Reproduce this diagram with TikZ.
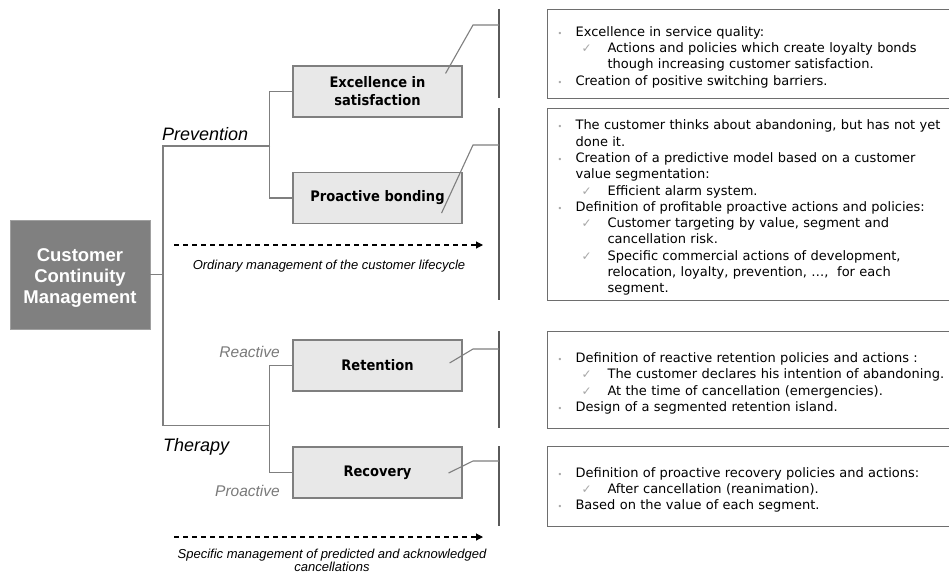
\documentclass[tikz,border=0pt]{standalone}
\usepackage{fontspec}
\setmainfont{DejaVu Sans}
\newfontfamily\arialf{Liberation Sans}
\newfontfamily\symf{DejaVu Sans}
\newfontfamily\titlef{DejaVu Sans}[FakeStretch=0.9]
\usetikzlibrary{arrows.meta}
\definecolor{lineg}{HTML}{7F7F7F}
\definecolor{brackg}{HTML}{5A5A5A}
\definecolor{tboxg}{HTML}{6E6E6E}
\definecolor{boxfill}{HTML}{E8E8E8}
\definecolor{mainfill}{HTML}{808080}
\definecolor{mainedge}{HTML}{A0A0A0}
\definecolor{bulg}{HTML}{A8A8A8}
\definecolor{labg}{HTML}{7A7A7A}
\newcommand\bu{\par\noindent\hangindent=19pt\hangafter=1\makebox[19pt][l]{\hspace*{1pt}\textcolor{bulg}{\symf\fontsize{8}{8}\selectfont •}}}
\newcommand\ck{\par\noindent\hangindent=51pt\hangafter=1\hspace*{25pt}\makebox[26pt][l]{\textcolor{bulg}{\symf\fontsize{12}{12}\selectfont ✓}}}
\tikzset{
  conn/.style={draw=lineg, line width=1.1pt},
  brack/.style={draw=brackg, line width=1.1pt},
  mainbox/.style={draw=mainedge, fill=mainfill, line width=0.8pt, minimum width=140pt, minimum height=109pt, inner sep=0pt},
  maintext/.style={text=white, align=center, inner sep=0pt, font=\arialf\bfseries\fontsize{18.5}{21}\selectfont},
  catbox/.style={draw=lineg, fill=boxfill, line width=1.1pt, minimum width=169pt, minimum height=51pt, inner sep=0pt,
    align=center, font=\titlef\bfseries\fontsize{14.5}{18}\selectfont},
  txtbox/.style={draw=tboxg, line width=1.1pt, anchor=north west, text width=402pt, inner xsep=9pt, inner ysep=0pt,
    font=\fontsize{13}{16.3}\selectfont, execute at begin node=\raggedright},
  itlab/.style={font=\arialf\itshape\fontsize{18}{20}\selectfont, inner sep=0pt},
  smlab/.style={font=\arialf\itshape\fontsize{15.5}{18}\selectfont, text=labg, inner sep=0pt},
  notelab/.style={font=\arialf\itshape\fontsize{13}{13.5}\selectfont, inner sep=0pt, align=center},
  dasharr/.style={draw=black, line width=1.1pt, dash pattern=on 5pt off 4pt, -{Triangle[length=7pt,width=7pt]}}
}
\begin{document}
\begin{tikzpicture}[x=1pt,y=-1pt]
\useasboundingbox[fill=white] (0,0) rectangle (949,578);
% main box
\node[mainbox] (ccm) at (80,274.5) {};
\node[maintext] (ccmt) at (80,278) {Customer\\Continuity\\Management};
% category boxes
\node[catbox] (exc) at (377.5,91.5) {Excellence in\\satisfaction};
\node[catbox] (pro) at (377.5,198) {Proactive bonding};
\node[catbox] (ret) at (377.5,365.5) {Retention};
\node[catbox] (rec) at (377.5,472.5) {Recovery};
% tree
\coordinate (pt) at (163,146);
\coordinate (pb) at (163,425.7);
\coordinate (ut) at (270,146);
\coordinate (lt) at (270,425.7);
\draw[conn] (ccm.east) -- (ccm.east -| pt);
\draw[conn] (ut) -- (pt) -- (pb) -- (lt);
\draw[conn] (exc.west) -- ++(-23,0) |- (pro.west);
\draw[conn] (ret.west) -- ++(-23,0) |- (rec.west);
% labels
\node[itlab, anchor=west] (lprev) at (162,134) {Prevention};
\node[itlab, anchor=west] (lther) at (163,447) {Therapy};
\node[smlab, anchor=east] (lreac) at (280,352) {Reactive};
\node[smlab, anchor=east] (lproa) at (280,491) {Proactive};
% dashed arrows
\coordinate (d1s) at (174,245);
\coordinate (d1e) at (483,245);
\coordinate (d2s) at (174,537);
\coordinate (d2e) at (483,537);
\draw[dasharr] (d1s) -- (d1e);
\draw[dasharr] (d2s) -- (d2e);
\node[notelab] (n1) at (329,266) {Ordinary management of the customer lifecycle};
\node[notelab] (n2) at (332,560.5) {Specific management of predicted and acknowledged\\cancellations};
% text boxes
\node[txtbox, minimum height=89pt] (t1) at (547,9) {%
\bu Excellence in service quality:
\ck Actions and policies which create loyalty bonds\newline though increasing customer satisfaction.
\bu Creation of positive switching barriers.\par};
\node[txtbox, minimum height=192pt] (t2) at (547,108) {%
\bu The customer thinks about abandoning, but has not yet\newline done it.
\bu Creation of a predictive model based on a customer\newline value segmentation:
\ck Efficient alarm system.
\bu Definition of profitable proactive actions and policies:
\ck Customer targeting by value, segment and\newline cancellation risk.
\ck Specific commercial actions of development,\newline relocation, loyalty, prevention, …,\ \ for each\newline segment.\par};
\node[txtbox, minimum height=97pt] (t3) at (547,331) {%
\bu Definition of reactive retention policies and actions :
\ck The customer declares his intention of abandoning.
\ck At the time of cancellation (emergencies).
\bu Design of a segmented retention island.\par};
\node[txtbox, minimum height=80pt] (t4) at (547,446) {%
\bu Definition of proactive recovery policies and actions:
\ck After cancellation (reanimation).
\bu Based on the value of each segment.\par};
% brackets
\coordinate (b1t) at (499,9);   \coordinate (b1b) at (499,98);
\coordinate (b2t) at (499,108); \coordinate (b2b) at (499,300);
\coordinate (b3t) at (499,331); \coordinate (b3b) at (499,428);
\coordinate (b4t) at (499,446); \coordinate (b4b) at (499,526);
\draw[brack] (b1t) -- (b1b);
\draw[brack] (b2t) -- (b2b);
\draw[brack] (b3t) -- (b3b);
\draw[brack] (b4t) -- (b4b);
% callouts
\draw[conn] ([shift={(-17,8)}]exc.north east) -- (473,25) -- (b1t |- 0,25);
\draw[conn] ([shift={(-21,-11)}]pro.south east) -- (473,145) -- (b2t |- 0,145);
\draw[conn] ([shift={(-13,-2.5)}]ret.east) -- (473,349) -- (b3t |- 0,349);
\draw[conn] ([shift={(-14,0.5)}]rec.east) -- (473,461) -- (b4t |- 0,461);
\end{tikzpicture}
\end{document}
